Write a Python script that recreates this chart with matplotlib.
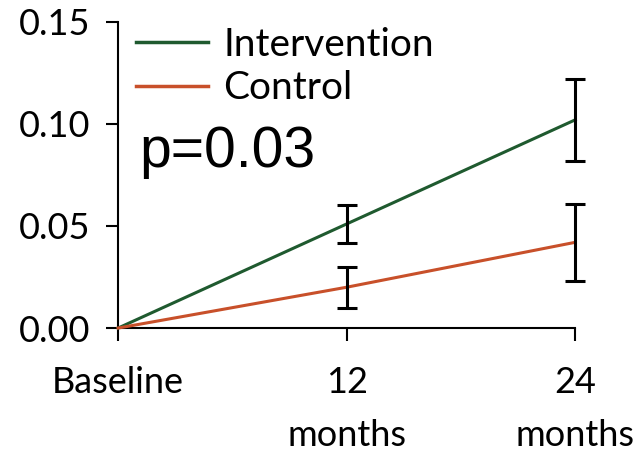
import matplotlib
matplotlib.use("Agg")
import matplotlib.pyplot as plt

x_vals = [0, 12, 24]
x_labels = ["Baseline", "12\nmonths", "24\nmonths"]
intervention = [0.0, 0.051, 0.102]
intervention_err = [0.0, 0.0095, 0.020]
control = [0.0, 0.020, 0.042]
control_err = [0.0, 0.010, 0.019]
y_ticks = [0.00, 0.05, 0.10, 0.15]
y_ticklabels = ["0.00", "0.05", "0.10", "0.15"]
p_text = "p=0.03"

green = "#1f5a2f"
orange = "#c8502a"

plt.rcParams['font.family'] = ['Lato', 'DejaVu Sans']

fig = plt.figure(figsize=(6.42, 4.55), dpi=100)
ax = fig.add_axes([0.184, 0.279, 0.712, 0.673])

ax.plot(x_vals, intervention, color=green, lw=2.2, label="Intervention", clip_on=False, zorder=3)
ax.plot(x_vals, control, color=orange, lw=2.2, label="Control", clip_on=False, zorder=3)
ax.errorbar(x_vals[1:], intervention[1:], yerr=intervention_err[1:], fmt='none',
            ecolor='black', elinewidth=2.2, capsize=7.5, capthick=2.2, clip_on=False, zorder=4)
ax.errorbar(x_vals[1:], control[1:], yerr=control_err[1:], fmt='none',
            ecolor='black', elinewidth=2.2, capsize=7.5, capthick=2.2, clip_on=False, zorder=4)

ax.set_xlim(0, 24)
ax.set_ylim(0, 0.15)
ax.set_xticks(x_vals)
ax.set_xticklabels(x_labels, fontsize=26, linespacing=1.75)
ax.set_yticks(y_ticks)
ax.set_yticklabels(y_ticklabels, fontsize=26)
ax.tick_params(axis='y', direction='out', length=9, width=1.5, pad=11, colors='black')
ax.tick_params(axis='x', direction='out', length=9, width=1.5, pad=18, colors='black')
for s in ['top', 'right']:
    ax.spines[s].set_visible(False)
for s in ['left', 'bottom']:
    ax.spines[s].set_linewidth(1.5)
    ax.spines[s].set_color('black')

leg = ax.legend(loc='upper left', bbox_to_anchor=(0.005, 1.035), frameon=False,
                fontsize=28, handlelength=1.85, handletextpad=0.4, labelspacing=0.2,
                borderaxespad=0)
for line in leg.get_lines():
    line.set_linewidth(2.5)

ax.text(1.1, 0.079, p_text, fontsize=41, family=['Liberation Sans', 'DejaVu Sans'],
        ha='left', va='baseline')

fig.savefig("out.png", dpi=100)
